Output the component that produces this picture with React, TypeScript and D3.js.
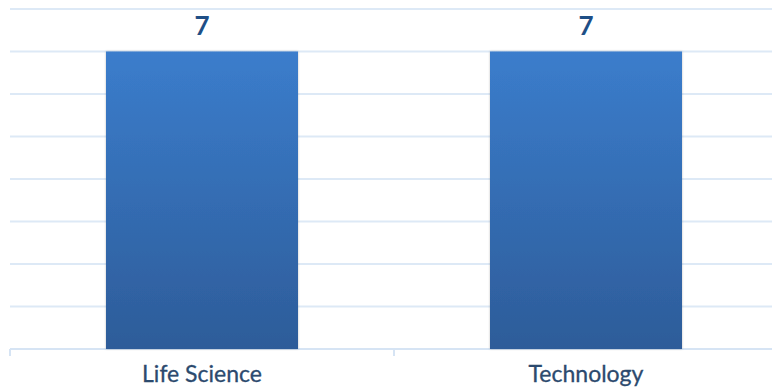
import React from "react";
import * as d3 from "d3";

const categories: string[] = ["Life Science", "Technology"];
const values: number[] = [7, 7];
const yTicks: number[] = [0, 1, 2, 3, 4, 5, 6, 7, 8];

const W = 772;
const H = 388;
const left = 10;
const right = 778;
const top = 9;
const bottom = 349;

export default function App() {
  const x = d3.scaleBand<string>().domain(categories).range([left, right]).paddingInner(0).paddingOuter(0);
  const y = d3.scaleLinear().domain([0, 8]).range([bottom, top]);
  const bw = x.bandwidth() * 0.5;
  const font = "Lato, 'Open Sans', sans-serif";
  return (
    <svg width={W} height={H} style={{ position: "absolute", left: 0, top: 0, background: "#fff" }}>
      <defs>
        <linearGradient id="barGrad" x1="0" y1="0" x2="0" y2="1">
          <stop offset="0%" stopColor="#3b7dcc" />
          <stop offset="100%" stopColor="#2d5c99" />
        </linearGradient>
        <filter id="sh" x="-5%" y="-5%" width="110%" height="110%">
          <feDropShadow dx="0" dy="0" stdDeviation="1" floodColor="#000" floodOpacity="0.25" />
        </filter>
      </defs>
      {yTicks.filter((t) => t > 0).map((t) => (
        <line key={t} x1={left} x2={W} y1={y(t)} y2={y(t)} stroke="#dde9f6" strokeWidth={2} />
      ))}
      <line x1={left} x2={W} y1={y(0)} y2={y(0)} stroke="#d6e4f4" strokeWidth={2} />
      {[left, x(categories[1]) as number].map((tx, i) => (
        <line key={i} x1={tx} x2={tx} y1={y(0)} y2={y(0) + 7} stroke="#d6e4f4" strokeWidth={2} />
      ))}
      {categories.map((c, i) => {
        const cx = (x(c) as number) + x.bandwidth() / 2;
        return (
          <g key={c}>
            <rect
              x={cx - bw / 2}
              y={y(values[i])}
              width={bw}
              height={y(0) - y(values[i])}
              fill="url(#barGrad)"
              filter="url(#sh)"
            />
            <text
              x={cx}
              y={y(values[i]) - 17}
              textAnchor="middle"
              fontFamily={font}
              fontWeight="bold"
              fontSize={26}
              fill="#1f4f86"
            >
              {values[i]}
            </text>
            <text
              x={cx}
              y={382}
              textAnchor="middle"
              fontFamily={font}
              fontSize={23}
              fill="#2c4a6e"
              stroke="#2c4a6e"
              strokeWidth={0.3}
            >
              {c}
            </text>
          </g>
        );
      })}
    </svg>
  );
}
